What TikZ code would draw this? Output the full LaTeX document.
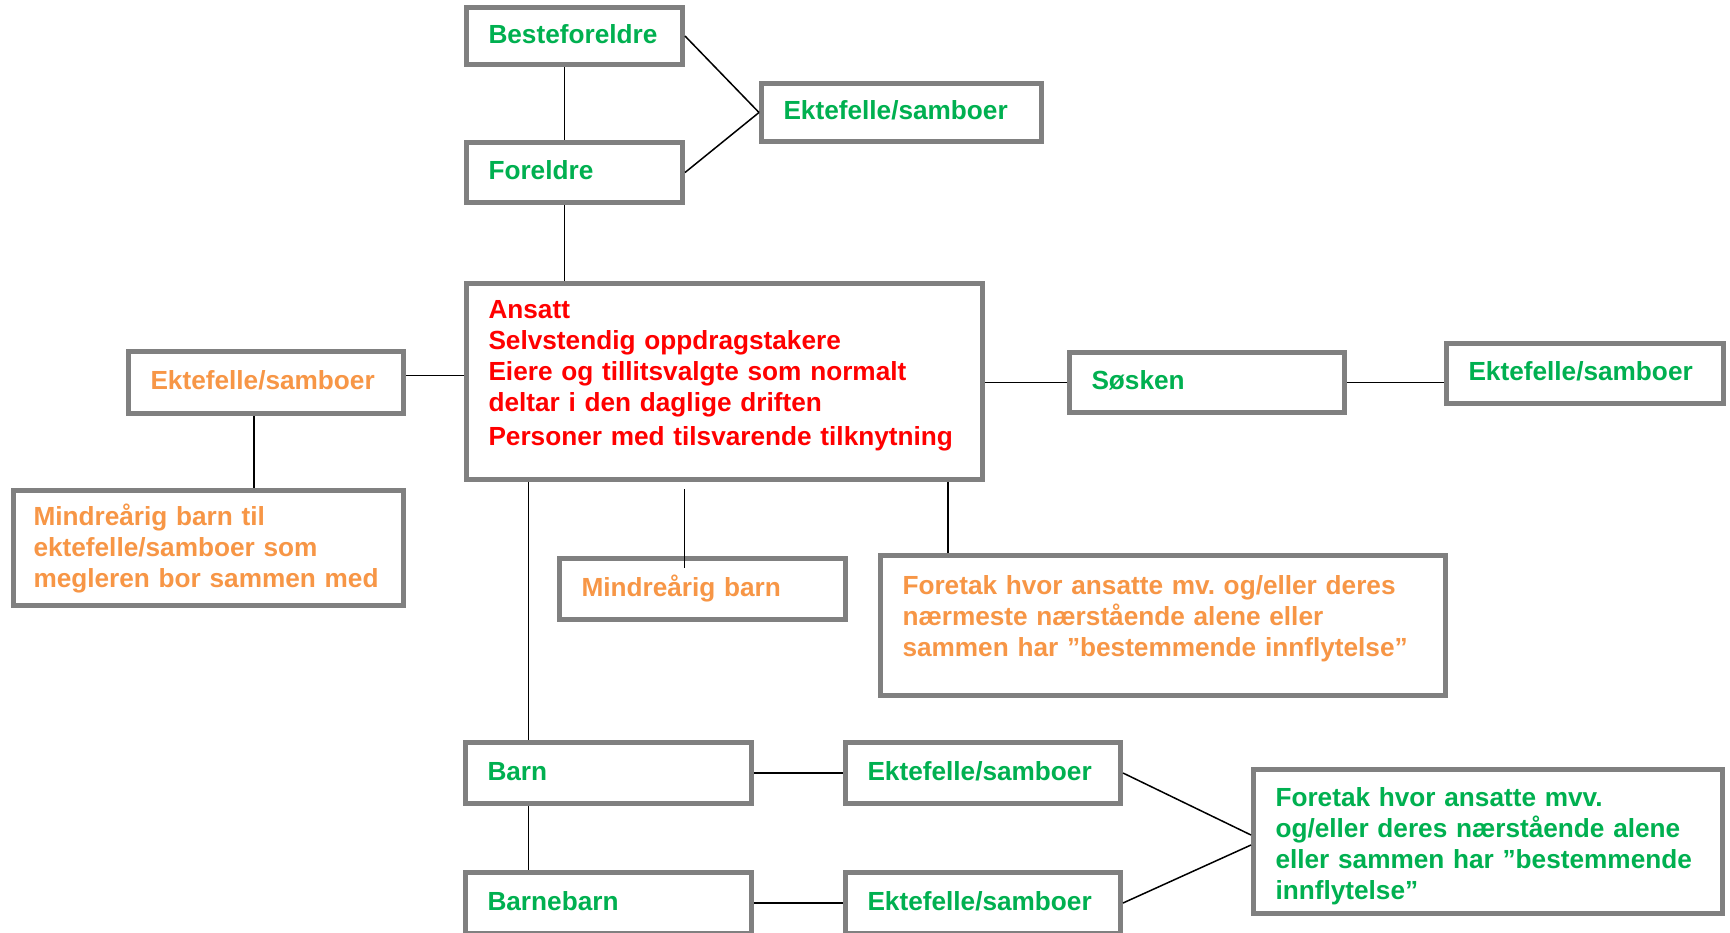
\documentclass[tikz,border=0pt]{standalone}
\usepackage{fontspec}
\setmainfont{Liberation Sans}
\usepackage{xcolor}
\usepackage{tikz}
\usetikzlibrary{positioning}
\definecolor{boxgray}{HTML}{808080}
\definecolor{kgreen}{HTML}{00B050}
\definecolor{korange}{HTML}{F79646}
\definecolor{kred}{HTML}{FF0000}

\begin{document}
\begin{tikzpicture}[x=1pt,y=-1pt,every text node part/.style={align=left},
  box/.style={rectangle,draw=boxgray,fill=white,line width=5pt,inner xsep=22pt,inner ysep=0pt,
    font=\fontsize{26.2pt}{31pt}\selectfont\bfseries\frenchspacing},
  kort/.style={text height=19pt,text depth=4.5pt},
  slekt/.style={box,text=kgreen},
  mindre/.style={box,text=korange},
  hoved/.style={box,text=kred},
  link/.style={draw=black,line width=1.5pt}]
  \useasboundingbox (0,0) rectangle (1730,932);
  \node[slekt,kort,text width=172pt,minimum height=57pt] (0) at (574.5,36) {Besteforeldre};
  \node[slekt,kort,text width=236pt,minimum height=58pt] (1) at (901.5,112.5) {Ektefelle/samboer};
  \node[slekt,kort,text width=172pt,minimum height=60pt] (2) at (574.5,172.5) {Foreldre};
  \node[hoved,text width=472pt,minimum height=196pt] (3) at (724.5,381.5) {Ansatt\\
    Selvstendig oppdragstakere\\
    Eiere og tillitsvalgte som normalt\\
    deltar i den daglige driften\\[3pt]
    Personer med tilsvarende tilknytning\par\vspace*{11pt}};
  \node[mindre,kort,text width=231pt,minimum height=62pt] (4) at (266,382.5) {Ektefelle/samboer};
  \node[mindre,inner xsep=20pt,text width=350pt,minimum height=115pt] (5) at (208.5,548) {Mindreårig barn til\\
    ektefelle/samboer som\\
    megleren bor sammen med};
  \node[mindre,kort,text width=242pt,minimum height=61pt] (6) at (702.5,589) {Mindreårig barn};
  \node[mindre,text width=521pt,minimum height=140pt] (7) at (1163,625.5) {Foretak hvor ansatte mv. og/eller deres\\
    nærmeste nærstående alene eller\\
    sammen har ”bestemmende innflytelse”\par\vspace*{14pt}};
  \node[slekt,kort,text width=231pt,minimum height=60pt] (8) at (1207,382.5) {Søsken};
  \node[slekt,kort,text width=233pt,minimum height=60pt] (9) at (1585,373.5) {Ektefelle/samboer};
  \node[slekt,kort,text width=242pt,minimum height=61pt] (10) at (608.5,773) {Barn};
  \node[slekt,kort,text width=231pt,minimum height=61pt] (11) at (983,773) {Ektefelle/samboer};
  \node[slekt,kort,text width=242pt,minimum height=61pt] (12) at (608.5,903) {Barnebarn};
  \node[slekt,kort,text width=231pt,minimum height=61pt] (13) at (983,903) {Ektefelle/samboer};
  \node[slekt,text width=425pt,minimum height=144pt] (14) at (1488,841.5) {Foretak hvor ansatte mvv.\\
    og/eller deres nærstående alene\\
    eller sammen har ”bestemmende\\
    innflytelse”\par\vspace*{-9pt}};
  % upwards
  \draw[link] ([xshift=-10pt]0.south) -- ([xshift=-10pt]2.north);
  \draw[link] ([xshift=-10pt]2.south) -- ([xshift=-10pt]2.south |- 3.north);
  \draw[link] (0.east) -- (1.west);
  \draw[link] (2.east) -- (1.west);
  % left side
  \draw[link] ([yshift=7pt]4.east) -- ([yshift=7pt]4.east -| 3.west);
  \draw[link] ([xshift=-12pt]4.south) -- ([xshift=-12pt]4.south |- 5.north);
  % downwards
  \draw[link] ([xshift=-18pt,yshift=-7pt]6.north |- 3.south) -- ([xshift=-18pt,yshift=-12pt]6.north);
  \draw[link] ([xshift=-215pt]7.north) -- ([xshift=-215pt]7.north |- 3.south);
  \draw[link] ([xshift=-80pt]10.north) -- ([xshift=-80pt]10.north |- 3.south);
  \draw[link] ([xshift=-80pt]10.south) -- ([xshift=-80pt]12.north);
  % right side
  \draw[link] (8.west) -- (8.west -| 3.east);
  \draw[link] (8.east) -- (8.east -| 9.west);
  \draw[link] (10.east) -- (11.west);
  \draw[link] (12.east) -- (13.west);
  \draw[link] (11.east) -- ([yshift=6.5pt]14.west);
  \draw[link] (13.east) -- ([yshift=-3.5pt]14.west);
\end{tikzpicture}
\end{document}
